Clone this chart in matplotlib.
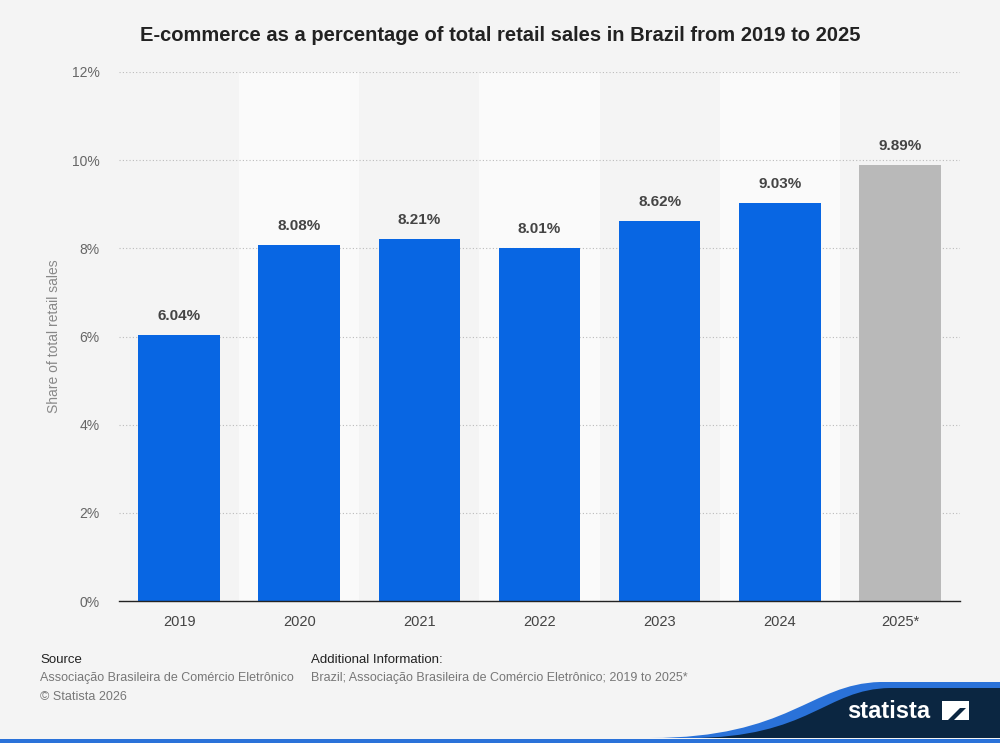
import matplotlib.pyplot as plt
import matplotlib.patches as patches
from matplotlib.path import Path
import numpy as np

plt.rcParams['font.family'] = ['Liberation Sans', 'DejaVu Sans']

years = ["2019", "2020", "2021", "2022", "2023", "2024", "2025*"]
shares = [6.04, 8.08, 8.21, 8.01, 8.62, 9.03, 9.89]
bar_colors = ["#0866e3"] * 6 + ["#b9b9b9"]
yticks = [0, 2, 4, 6, 8, 10, 12]

bg = "#f4f4f4"
fig = plt.figure(figsize=(10, 7.43), dpi=100, facecolor=bg)
ax = fig.add_axes([0.119, 0.1911, 0.841, 0.712])
ax.set_facecolor(bg)

x = np.arange(len(years))
# alternating column bands
for i in x:
    if i % 2 == 1:
        ax.axvspan(i - 0.5, i + 0.5, color="#fafafa", zorder=0, lw=0)

ax.set_ylim(0, 12)
ax.set_xlim(-0.5, len(years) - 0.5)
ax.set_yticks(yticks)
ax.set_yticklabels([f"{t}%" for t in yticks], color="#666666", fontsize=10)
ax.yaxis.grid(True, linestyle=(0, (1, 2)), color="#bbbbbb", lw=0.8, zorder=1)
ax.set_axisbelow(True)

bars = ax.bar(x, shares, width=0.68, color=bar_colors, zorder=2)
for xi, v in zip(x, shares):
    ax.text(xi, v + 0.27, f"{v:.2f}%", ha="center", va="bottom",
            fontsize=11, fontweight="bold", color="#444444", zorder=3)

ax.set_xticks(x)
ax.set_xticklabels(years, fontsize=10.5, color="#444444")
ax.tick_params(axis="x", length=0, pad=10)
ax.tick_params(axis="y", length=0, pad=14)
for s in ["top", "right", "left"]:
    ax.spines[s].set_visible(False)
ax.spines["bottom"].set_color("#222222")
ax.spines["bottom"].set_linewidth(1)
ax.set_ylabel("Share of total retail sales", color="#888888", fontsize=10, labelpad=8)

fig.text(0.5, 0.952, "E-commerce as a percentage of total retail sales in Brazil from 2019 to 2025",
         ha="center", va="center", fontsize=14.5, fontweight="bold", color="#222222")

# footer
fig.text(0.04, 0.108, "Source", fontsize=9.5, color="#222222")
fig.text(0.04, 0.083, "Associação Brasileira de Comércio Eletrônico", fontsize=9, color="#777777")
fig.text(0.04, 0.058, "© Statista 2026", fontsize=9, color="#777777")
fig.text(0.311, 0.108, "Additional Information:", fontsize=9.5, color="#222222")
fig.text(0.311, 0.083, "Brazil; Associação Brasileira de Comércio Eletrônico; 2019 to 2025*",
         fontsize=9, color="#777777")

# logo shape
H = 743.0
def fc(px, py):
    return (px / 1000.0, 1 - py / H)

codes = [Path.MOVETO, Path.CURVE4, Path.CURVE4, Path.CURVE4,
         Path.LINETO, Path.LINETO, Path.CLOSEPOLY]
verts = [fc(650, 738), fc(790, 738), fc(810, 684), fc(880, 682),
         fc(1000, 682), fc(1000, 738), fc(650, 738)]
fig.patches.append(patches.PathPatch(Path(verts, codes), facecolor="#2a72d9",
                                     edgecolor="none", transform=fig.transFigure))
verts2 = [fc(690, 738), fc(810, 738), fc(825, 689), fc(890, 688),
          fc(1000, 688), fc(1000, 738), fc(690, 738)]
fig.patches.append(patches.PathPatch(Path(verts2, codes), facecolor="#0b2641",
                                     edgecolor="none", transform=fig.transFigure))
fig.patches.append(patches.Rectangle((0, 0), 1, 4 / H, facecolor="#2a72d9",
                                     edgecolor="none", transform=fig.transFigure))
fig.text(0.889, 0.043, "statista", fontsize=17, fontweight="bold", color="white",
         ha="center", va="center")
fig.patches.append(patches.Rectangle((0.942, 0.031), 0.027, 0.026, facecolor="white",
                                     edgecolor="none", transform=fig.transFigure))
stripe = [fc(946, 722), fc(952, 722), fc(966, 708), fc(960, 708), fc(946, 722)]
fig.patches.append(patches.Polygon(stripe, closed=True, facecolor="#0b2641",
                                   edgecolor="none", transform=fig.transFigure))

fig.savefig("out.png", dpi=100, facecolor=bg)
